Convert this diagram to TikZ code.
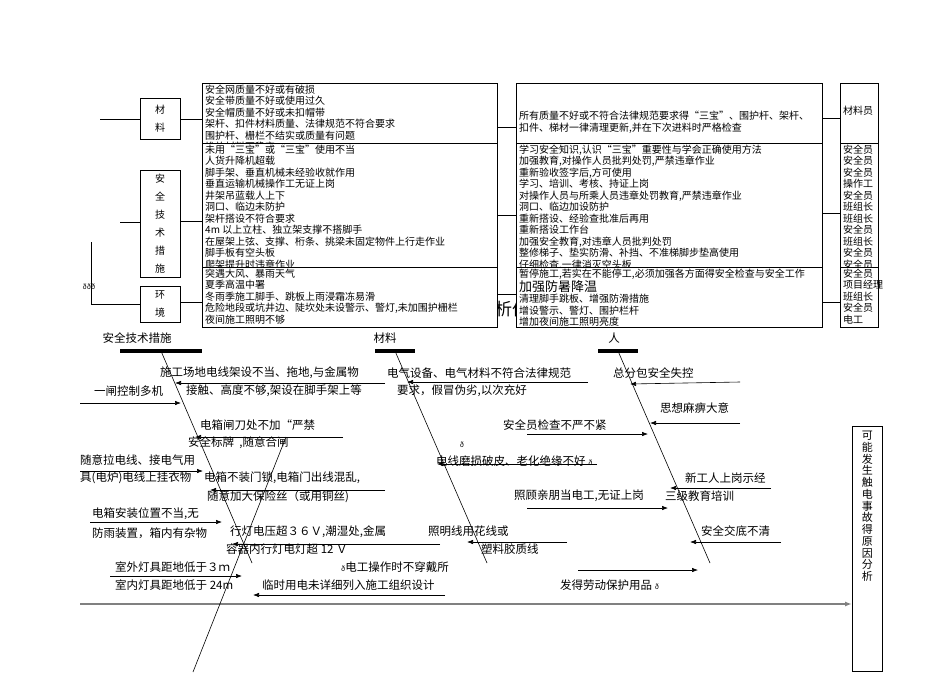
\documentclass[tikz,border=0pt]{standalone}
\usepackage{fontspec}
\setmainfont{Noto Sans CJK SC}
\usetikzlibrary{arrows.meta,positioning}

\tikzset{
  box/.style={draw, fill=white, line width=0.6pt, inner sep=0pt, anchor=north west},
  boxtext/.style={anchor=north west, align=left, inner sep=1.5pt, font=\fontsize{10}{11.5}\selectfont},
  tag/.style={draw, fill=white, line width=0.6pt, minimum width=40pt, align=center, inner sep=0pt, font=\fontsize{10}{18}\selectfont},
  cause/.style={-{Latex[length=6pt,width=4.5pt]}, line width=0.6pt},
  bone/.style={line width=0.6pt},
  bar/.style={fill, inner sep=0pt, minimum height=4pt},
  note/.style={anchor=west, inner sep=0pt, font=\fontsize{11.5}{13}\selectfont},
  blip/.style={inner sep=0pt, font=\fontsize{7}{7}\selectfont},
}

\begin{document}
\begin{tikzpicture}[x=1pt, y=-1pt]
\useasboundingbox (0,0) rectangle (950,672);

% table: causes, measures, who
\node[tag, minimum height=41pt] (mat) at (160,119) {材\\料};
\node[tag, minimum height=107pt] (tech) at (160,223.5) {安\\全\\技\\术\\措\\施};
\node[tag, minimum height=36pt] (env) at (160,304) {环\\境};
\node[blip] (dots) at (89,287) {ððð};

\node[box, minimum width=295pt, minimum height=60pt] (boxA) at (202,83) {};
\begin{scope}
\clip (202,83) rectangle (497,146);
\node[boxtext] (txtA) at ([xshift=1.5pt]boxA.north west) {安全网质量不好或有破损\\安全带质量不好或使用过久\\安全帽质量不好或未扣帽带\\架杆、扣件材料质量、法律规范不符合要求\\围护杆、栅栏不结实或质量有问题\\堆放材料不稳定};
\end{scope}
\node[box, minimum width=306pt, minimum height=60pt] (boxD) at (516,83) {};
\node[boxtext, anchor=west] (txtD) at ([xshift=1.5pt,yshift=-9pt]boxD.west) {所有质量不好或不符合法律规范要求得“三宝”、围护杆、架杆、\\扣件、梯材一律清理更新,并在下次进料时严格检查};
\node[box, minimum width=38pt, minimum height=60pt] (boxG) at (840,83) {};
\node[boxtext, anchor=west] (txtG) at ([xshift=1.5pt,yshift=3pt]boxG.west) {材料员};

\node[box, minimum width=295pt, minimum height=124pt] (boxB) at (202,143) {};
\node[boxtext] (txtB) at ([xshift=1.5pt]boxB.north west) {未用“三宝”或“三宝”使用不当\\人货升降机超载\\脚手架、垂直机械未经验收就作用\\垂直运输机械操作工无证上岗\\井架吊蓝载人上下\\洞口、临边未防护\\架杆搭设不符合要求\\4m 以上立柱、独立架支撑不搭脚手\\在屋架上弦、支撑、桁条、挑梁未固定物件上行走作业\\脚手板有空头板\\爬架提升时违章作业};
\node[box, minimum width=306pt, minimum height=124pt] (boxE) at (516,143) {};
\node[boxtext] (txtE) at ([xshift=1.5pt]boxE.north west) {学习安全知识,认识“三宝”重要性与学会正确使用方法\\加强教育,对操作人员批判处罚,严禁违章作业\\重新验收签字后,方可使用\\学习、培训、考核、持证上岗\\对操作人员与所乘人员违章处罚教育,严禁违章作业\\洞口、临边加设防护\\重新搭设、经验查批准后再用\\重新搭设工作台\\加强安全教育,对违章人员批判处罚\\整修梯子、垫实防滑、补挡、不准梯脚步垫高使用\\仔细检查,一律消灭空头板};
\node[box, minimum width=38pt, minimum height=124pt] (boxH) at (840,143) {};
\node[boxtext] (txtH) at ([xshift=1.5pt]boxH.north west) {安全员\\安全员\\安全员\\操作工\\安全员\\班组长\\班组长\\安全员\\班组长\\安全员\\安全员};

\begin{scope}
\clip (497,295) rectangle (516,325);
\node[anchor=west, inner sep=0pt, font=\fontsize{17}{17}\selectfont] (stray) at (495,309) {析伯};
\end{scope}

\node[box, minimum width=295pt, minimum height=60pt] (boxC) at (202,267) {};
\node[boxtext] (txtC) at ([xshift=1.5pt]boxC.north west) {突遇大风、暴雨天气\\夏季高温中署\\冬雨季施工脚手、跳板上雨浸霜冻易滑\\危险地段或坑井边、陡坎处未设警示、警灯,未加围护栅栏\\夜间施工照明不够};
\node[box, minimum width=306pt, minimum height=60pt] (boxF) at (516,267) {};
\node[boxtext] (txtF) at ([xshift=1.5pt]boxF.north west) {暂停施工,若实在不能停工,必须加强各方面得安全检查与安全工作\\{\fontsize{13}{13}\selectfont 加强防暑降温}\\清理脚手跳板、增强防滑措施\\增设警示、警灯、围护栏杆\\增加夜间施工照明亮度};
\node[box, minimum width=38pt, minimum height=60pt] (boxI) at (840,267) {};
\node[boxtext] (txtI) at ([xshift=1.5pt]boxI.north west) {安全员\\项目经理\\班组长\\安全员\\电工};

\coordinate (matIn) at (100,119);
\coordinate (techIn) at (120,222);
\coordinate (envIn) at (91,242);
\draw[bone] (matIn) -- (mat);
\draw[bone] (techIn) -- (tech.west |- techIn);
\draw[bone] (envIn) |- (env.west);
\draw[bone] (mat.east) -- (mat.east -| boxA.west);
\draw[bone] ([yshift=2pt]tech.east) -- ([yshift=2pt]tech.east -| boxB.west);
\draw[bone] ([yshift=2pt]env.east) -- ([yshift=2pt]env.east -| boxC.west);
\draw[bone] ([yshift=-14pt]boxA.east) -- ([yshift=-14pt]boxD.west);
\draw[bone] ([yshift=-10pt]boxB.east) -- ([yshift=-10pt]boxE.west);
\draw[bone] ([yshift=3pt]boxC.east) -- ([yshift=3pt]boxF.west);
\draw[bone] ([yshift=-5pt]boxD.east) -- ([yshift=-5pt]boxG.west);
\draw[bone] ([yshift=-8pt]boxE.east) -- ([yshift=-8pt]boxH.west);
\draw[bone] ([yshift=-5pt]boxF.east) -- ([yshift=-5pt]boxI.west);

% fishbone
\node[draw, line width=0.6pt, inner sep=0pt, minimum width=30pt, minimum height=245pt, anchor=north west] (result) at (852,426) {};
\node[anchor=north, align=center, inner sep=0pt, font=\fontsize{11}{11.75}\selectfont] (resTxt) at ([yshift=-5pt]result.north) {可\\能\\发\\生\\触\\电\\事\\故\\得\\原\\因\\分\\析};
\coordinate (tail) at (80,604);
\draw[-{Latex[length=7pt,width=5pt]}, line width=2pt, draw=black!50] (tail) -- (tail -| result.west);

\node[note, anchor=center] (hdTech) at (137,338) {安全技术措施};
\node[note, anchor=center] (hdMat) at (385,338) {材料};
\node[note, anchor=center] (hdMan) at (614,338) {人};
\node[bar, minimum width=82pt] (barTech) at (161,351) {};
\node[bar, minimum width=40pt] (barMat) at (395,351) {};
\node[bar, minimum width=40pt] (barMan) at (618,351) {};

\coordinate (endTech) at (252,563);
\coordinate (crossTop) at (286,437);
\coordinate (crossBot) at (193,672);
\coordinate (endMat) at (487,563);
\coordinate (endMan) at (710,563);
\draw[bone] (barTech.center) -- (endTech);
\draw[bone] (crossTop) -- (crossBot);
\draw[bone] (barMat.center) -- (endMat);
\draw[bone] (barMan.center) -- (endMan);

% causes
\coordinate (c1) at (385,383);  \coordinate (c1h) at (175,383);
\coordinate (c2) at (80,403);   \coordinate (c2h) at (181,403);
\coordinate (c3) at (343,437);  \coordinate (c3h) at (195,437);
\coordinate (c4) at (80,471);   \coordinate (c4h) at (203,471);
\coordinate (c5) at (385,490);  \coordinate (c5h) at (210,490);
\coordinate (c6) at (90,522);   \coordinate (c6h) at (222,522);
\coordinate (c7) at (440,544);  \coordinate (c7h) at (232,544);
\coordinate (c8) at (110,576);  \coordinate (c8h) at (242,576);
\coordinate (c9) at (445,595);  \coordinate (c9h) at (253,595);
\coordinate (c10) at (588,382); \coordinate (c10h) at (407,382);
\coordinate (c12) at (597,464); \coordinate (c12h) at (437,464);
\coordinate (c13) at (527,508); \coordinate (c13h) at (668,508);
\coordinate (c14) at (567,542); \coordinate (c14h) at (467,542);
\coordinate (c15) at (578,570); \coordinate (c15h) at (698,570);
\coordinate (c16) at (740,382); \coordinate (c16h) at (630,384);
\coordinate (c17) at (740,423); \coordinate (c17h) at (650,423);
\coordinate (c18) at (527,434); \coordinate (c18h) at (648,434);
\coordinate (c19) at (771,488); \coordinate (c19h) at (670,488);
\coordinate (c20) at (781,542); \coordinate (c20h) at (690,542);

\draw[cause] (c1) -- (c1h);
\draw[cause] (c2) -- (c2h);
\draw[cause] (c3) -- (c3h);
\draw[cause] (c4) -- (c4h);
\draw[cause] (c5) -- (c5h);
\draw[cause] (c6) -- (c6h);
\draw[cause] (c7) -- (c7h);
\draw[cause] (c8) -- (c8h);
\draw[cause] (c9) -- (c9h);
\draw[cause] (c10) -- (c10h);
\draw[cause] (c12) -- (c12h);
\draw[cause] (c13) -- (c13h);
\draw[cause] (c14) -- (c14h);
\draw[cause] (c15) -- (c15h);
\draw[cause] (c16) -- (c16h);
\draw[cause] (c17) -- (c17h);
\draw[cause] (c18) -- (c18h);
\draw[cause] (c19) -- (c19h);
\draw[cause] (c20) -- (c20h);

\node[note] (t1a) at (160,373) {施工场地电线架设不当、拖地,与金属物};
\node[note] (t1b) at (186,391) {接触、高度不够,架设在脚手架上等};
\node[note] (t2) at (94,391) {一闸控制多机};
\node[note] (t3a) at (200,425) {电箱闸刀处不加“严禁};
\node[note] (t3b) at (188,443) {安全标牌\ \ ,随意合闸};
\node[note] (t4a) at (80,460) {随意拉电线、接电气用};
\node[note] (t4b) at (80,478) {具(电炉)电线上挂衣物};
\node[note] (t5a) at (204,478) {电箱不装门锁,电箱门出线混乱,};
\node[note] (t5b) at (207,497) {随意加大保险丝（或用铜丝)};
\node[note] (t6a) at (92,514) {电箱安装位置不当,无};
\node[note] (t6b) at (92,533) {防雨装置，箱内有杂物};
\node[note] (t7a) at (230,532) {行灯电压超３６Ｖ,潮湿处,金属};
\node[note] (t7b) at (226,549) {容器内行灯电灯超 12 Ｖ};
\node[note] (t8a) at (115,567) {室外灯具距地低于３ｍ};
\node[note] (t8b) at (115,585) {室内灯具距地低于 24m};
\node[note] (t9a) at (341,567) {{\fontsize{7}{7}\selectfont ð}电工操作时不穿戴所};
\node[note] (t9b) at (262,585) {临时用电未详细列入施工组织设计};
\node[note] (t10a) at (387,373) {电气设备、电气材料不符合法律规范};
\node[note] (t10b) at (397,391) {要求，假冒伪劣,以次充好};
\node[blip] (t11) at (462,445) {ð};
\node[note] (t12) at (436,461) {电线磨损破皮、老化绝缘不好 {\fontsize{7}{7}\selectfont ð}};
\node[note] (t13) at (514,496) {照顾亲朋当电工,无证上岗};
\node[note] (t14a) at (428,531) {照明线用花线或};
\node[note] (t14b) at (481,549) {塑料胶质线};
\node[note] (t15) at (560,585) {发得劳动保护用品 {\fontsize{7}{7}\selectfont ð}};
\node[note] (t16) at (613,373) {总分包安全失控};
\node[note] (t17) at (660,408) {思想麻痹大意};
\node[note] (t18) at (503,425) {安全员检查不严不紧};
\node[note] (t19a) at (685,478) {新工人上岗示经};
\node[note] (t19b) at (665,496) {三级教育培训};
\node[note] (t20) at (701,531) {安全交底不清};
\end{tikzpicture}
\end{document}
